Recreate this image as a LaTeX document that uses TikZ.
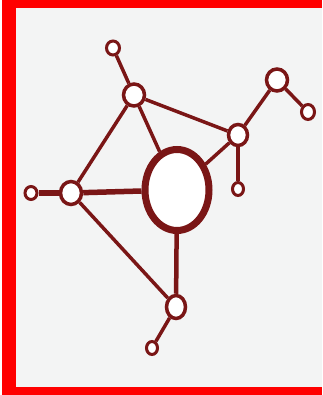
\documentclass[tikz,border=0pt]{standalone}
\usetikzlibrary{shapes.geometric}
\definecolor{molred}{RGB}{122,22,22}
\definecolor{bggray}{RGB}{243,244,244}
\definecolor{framered}{RGB}{255,0,0}
\begin{document}
\begin{tikzpicture}[x=1pt,y=-1pt,
  atom/.style={ellipse,draw=molred,fill=white,inner sep=0pt,line width=3.5pt},
  smallatom/.style={atom,line width=3pt},
  bond/.style={draw=molred,line width=3.5pt},
  thickbond/.style={draw=molred,line width=5.5pt}]
\useasboundingbox (0,0) rectangle (322,395);
\fill[white] (0,0) rectangle (322,395);
\fill[bggray] (16,8) rectangle (322,387);
\fill[framered] (2,0) rectangle (16,395);
\fill[framered] (2,0) rectangle (322,8);
\fill[framered] (2,387) rectangle (322,395);
% nodes
\node[atom,line width=7pt,minimum width=64pt,minimum height=81pt] (m) at (177,190) {};
\node[atom,minimum width=21pt,minimum height=22pt] (A) at (134,95) {};
\node[smallatom,minimum width=13pt,minimum height=14pt] (a) at (113,48) {};
\node[atom,minimum width=19pt,minimum height=21pt] (B) at (238,135) {};
\node[atom,minimum width=21pt,minimum height=22pt] (C) at (277,80) {};
\node[smallatom,minimum width=13pt,minimum height=15pt] (c) at (308,112) {};
\node[smallatom,minimum width=11pt,minimum height=13pt] (b) at (238,189) {};
\node[atom,minimum width=21pt,minimum height=23pt] (D) at (71,193) {};
\node[smallatom,minimum width=12pt,minimum height=13pt] (d) at (31,193) {};
\node[atom,minimum width=19pt,minimum height=23pt] (E) at (176,307) {};
\node[smallatom,minimum width=11pt,minimum height=13pt] (e) at (152,348) {};
% bonds
\draw[bond] (a) -- (A);
\draw[bond] (A) -- (B);
\draw[bond] (A) -- (m);
\draw[bond] (A) -- (D);
\draw[bond] (B) -- (m);
\draw[bond] (B) -- (C);
\draw[bond] (C) -- (c);
\draw[bond] (B) -- (b);
\draw[thickbond] (d) -- (D);
\draw[thickbond] (D) -- (m);
\draw[bond] (D) -- (E);
\draw[bond,line width=4.5pt] (m) -- (E);
\draw[bond] (E) -- (e);
\end{tikzpicture}
\end{document}
